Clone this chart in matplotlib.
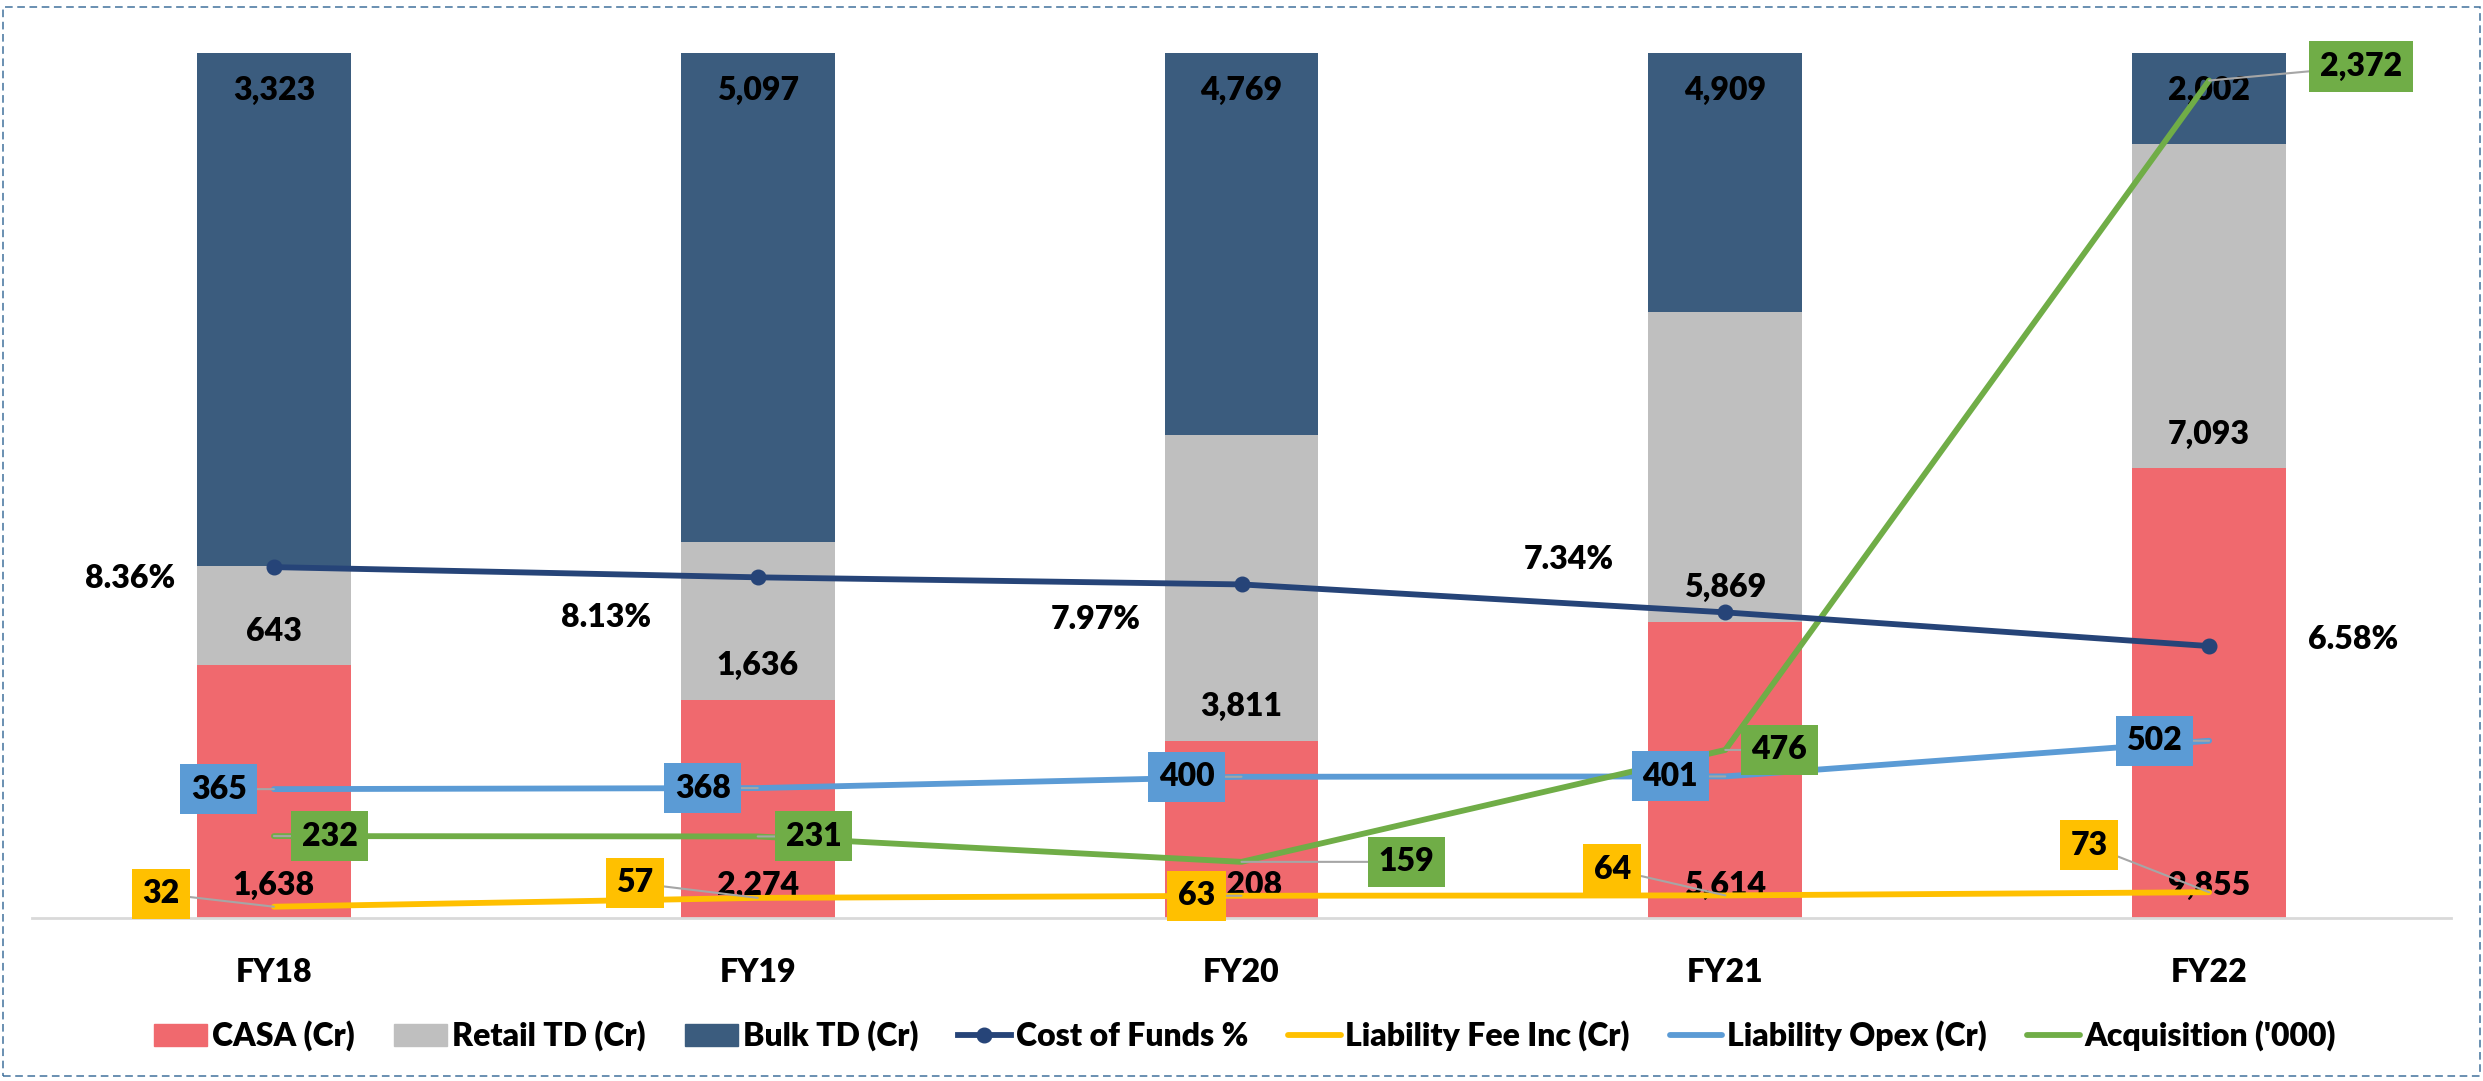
import matplotlib
matplotlib.use('Agg')
import matplotlib.pyplot as plt
from matplotlib.patches import Rectangle, Patch
from matplotlib.lines import Line2D
import numpy as np

plt.rcParams['font.family'] = ['Lato', 'DejaVu Sans']
WT = 'heavy'
plt.rcParams['font.weight'] = WT

# ---------------- data ----------------
years = ['FY18', 'FY19', 'FY20', 'FY21', 'FY22']
casa = [1638, 2274, 2208, 5614, 9855]
retail_td = [643, 1636, 3811, 5869, 7093]
bulk_td = [3323, 5097, 4769, 4909, 2002]
cost_of_funds = [8.36, 8.13, 7.97, 7.34, 6.58]
liability_fee = [32, 57, 63, 64, 73]
liability_opex = [365, 368, 400, 401, 502]
acquisition = [232, 231, 159, 476, 2372]

# ---------------- style ----------------
C_CASA = '#F0696E'
C_RET = '#BFBFBF'
C_BULK = '#3B5C7E'
C_COF = '#264478'
C_FEE = '#FFC000'
C_OPEX = '#5B9BD5'
C_ACQ = '#70AD47'
FS = 23

W, H = 2483, 1081
fig = plt.figure(figsize=(W / 100, H / 100), dpi=100)
ax = fig.add_axes([32 / W, (H - 918) / H, 2419 / W, 865 / H])

x = np.arange(len(years))
tot = np.array(casa) + np.array(retail_td) + np.array(bulk_td)
s_casa = np.array(casa) / tot * 100
s_ret = np.array(retail_td) / tot * 100
s_bulk = np.array(bulk_td) / tot * 100

bw = 0.318
ax.bar(x, s_casa, bw, color=C_CASA, zorder=2)
ax.bar(x, s_ret, bw, bottom=s_casa, color=C_RET, zorder=2)
ax.bar(x, s_bulk, bw, bottom=s_casa + s_ret, color=C_BULK, zorder=2)
ax.set_xlim(-0.5, 4.5)
ax.set_ylim(0, 100)

for i in range(len(x)):
    ax.annotate(f'{casa[i]:,}', xy=(x[i], 0), xytext=(0, 33 * 0.72),
                textcoords='offset points', ha='center', va='center',
                fontsize=FS, fontweight=WT, zorder=3)
    ax.annotate(f'{retail_td[i]:,}', xy=(x[i], s_casa[i]), xytext=(0, 34 * 0.72),
                textcoords='offset points', ha='center', va='center',
                fontsize=FS, fontweight=WT, zorder=3)
    ax.annotate(f'{bulk_td[i]:,}', xy=(x[i], 100), xytext=(0, -37 * 0.72),
                textcoords='offset points', ha='center', va='center',
                fontsize=FS, fontweight=WT, zorder=3)

for sp in ['top', 'left', 'right']:
    ax.spines[sp].set_visible(False)
ax.spines['bottom'].set_color('#D9D9D9')
ax.spines['bottom'].set_linewidth(2)
ax.set_yticks([])
ax.set_xticks(x)
ax.set_xticklabels(years, fontsize=FS, fontweight=WT)
ax.tick_params(axis='x', length=0, pad=29)

# secondary axis (value lines)
ax2 = ax.twinx()
ax2.set_ylim(0, 2450)
ax2.set_axis_off()
lw = 4.2
ax2.plot(x, liability_fee, color=C_FEE, lw=lw, solid_capstyle='round', zorder=3)
ax2.plot(x, liability_opex, color=C_OPEX, lw=lw, solid_capstyle='round', zorder=3)
ax2.plot(x, acquisition, color=C_ACQ, lw=lw, solid_capstyle='round', zorder=3)

# cost of funds axis
ax3 = ax.twinx()
ax3.set_ylim(0.45, 19.95)
ax3.set_axis_off()
ax3.plot(x, cost_of_funds, color=C_COF, lw=lw, marker='o', ms=10.5, zorder=3)

# labels (offsets in pixels)
cof_off = [(-144, -11), (-152, -40), (-146, -35), (-156, 53), (144, 7)]
opex_off = [(-55, 0)] * 5
acq_off = [(56, 0), (56, 0), (165, 0), (54, 0), (152, 14)]
fee_off = [(-113, 13), (-123, 15), (-45, 0), (-113, 26), (-120, 47)]

def px(o):
    return (o[0] * 0.72, o[1] * 0.72)

for i in range(len(x)):
    ax3.annotate(f'{cost_of_funds[i]:.2f}%', xy=(x[i], cost_of_funds[i]),
                 xycoords=ax3.transData, xytext=px(cof_off[i]),
                 textcoords='offset points', ha='center', va='center',
                 fontsize=FS, fontweight=WT, zorder=5)
    for vals, offs, col in [(liability_fee, fee_off, C_FEE),
                            (liability_opex, opex_off, C_OPEX),
                            (acquisition, acq_off, C_ACQ)]:
        ax3.annotate(f'{vals[i]:,}', xy=(x[i], vals[i]), xycoords=ax2.transData,
                     xytext=px(offs[i]), textcoords='offset points',
                     ha='center', va='center', fontsize=FS, fontweight=WT,
                     bbox=dict(boxstyle='square,pad=0.33', fc=col, ec='none'),
                     arrowprops=dict(arrowstyle='-', color='#A6A6A6', lw=1.5,
                                     shrinkA=0, shrinkB=0),
                     zorder=5)

# legend
handles = [Patch(color=C_CASA), Patch(color=C_RET), Patch(color=C_BULK),
           Line2D([], [], color=C_COF, lw=lw, marker='o', ms=10.5),
           Line2D([], [], color=C_FEE, lw=lw, solid_capstyle='round'),
           Line2D([], [], color=C_OPEX, lw=lw, solid_capstyle='round'),
           Line2D([], [], color=C_ACQ, lw=lw, solid_capstyle='round')]
labels = ['CASA (Cr)', 'Retail TD (Cr)', 'Bulk TD (Cr)', 'Cost of Funds %',
          'Liability Fee Inc (Cr)', 'Liability Opex (Cr)', "Acquisition ('000)"]
fig.legend(handles, labels, loc='center', bbox_to_anchor=(1245 / W, (H - 1036) / H),
           ncol=7, frameon=False, prop={'size': FS, 'weight': WT},
           handlelength=1.65, handleheight=0.7, handletextpad=0.15,
           columnspacing=1.25)

# dashed border
fig.patches.append(Rectangle((3 / W, 5 / H), 2477 / W, (H - 7 - 5) / H,
                             transform=fig.transFigure, fill=False,
                             ec='#41719C', lw=1.1, ls=(0, (5, 3))))

fig.savefig('out.png', dpi=100)
